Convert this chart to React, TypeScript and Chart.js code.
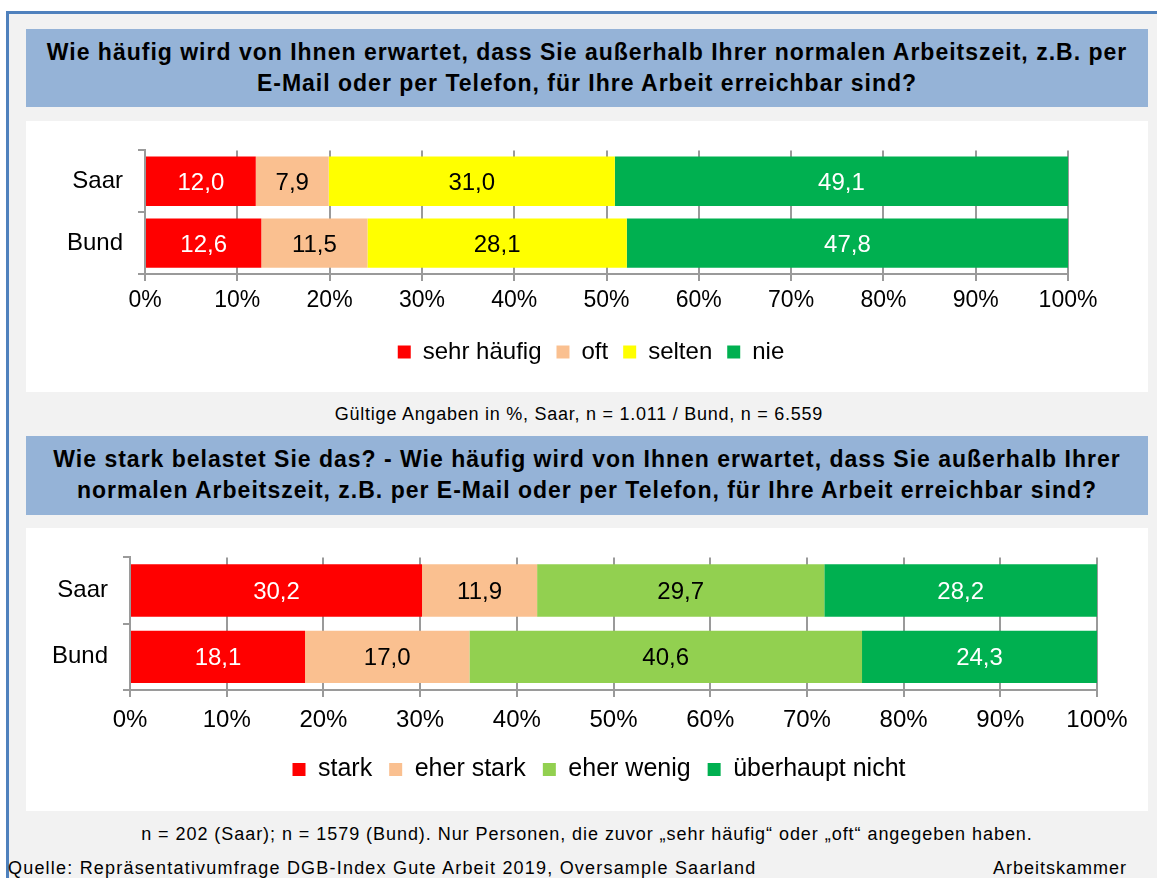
import React, { useEffect, useRef } from 'react';
import { Chart, registerables } from 'chart.js';

Chart.register(...registerables);

const FONT = "'Liberation Sans', Arial, Helvetica, sans-serif";
Chart.defaults.font.family = FONT;
Chart.defaults.color = '#000';

// ---------- data ----------
const categories = ['Saar', 'Bund'];
const percentTicks = [0, 10, 20, 30, 40, 50, 60, 70, 80, 90, 100];

const freqLabels = ['sehr häufig', 'oft', 'selten', 'nie'];
const freqSaar = [12.0, 7.9, 31.0, 49.1];
const freqBund = [12.6, 11.5, 28.1, 47.8];
const freqColors = ['#FF0000', '#FAC090', '#FFFF00', '#00B050'];
const freqTextColors = ['#FFFFFF', '#000000', '#000000', '#FFFFFF'];

const strainLabels = ['stark', 'eher stark', 'eher wenig', 'überhaupt nicht'];
const strainSaar = [30.2, 11.9, 29.7, 28.2];
const strainBund = [18.1, 17.0, 40.6, 24.3];
const strainColors = ['#FF0000', '#FAC090', '#92D050', '#00B050'];
const strainTextColors = ['#FFFFFF', '#000000', '#000000', '#FFFFFF'];

const GRID = '#9A9A9A';

type BarCfg = {
  labels: string[];
  saar: number[];
  bund: number[];
  colors: string[];
  textColors: string[];
  width: number;
  height: number;
  areaLeft: number;
  areaRight: number;
  areaTop: number;
  xHeight: number;
  tickPad: number;
  tickFont: number;
  catFont: number;
  catPad: number;
  dataFont: number;
  legendFont: number;
  legendPad: number;
  legendCenter: number;
  padBottom: number;
  barPct: number;
};

const fmt = (v: number) => v.toFixed(1).replace('.', ',');

function StackedBar(props: { cfg: BarCfg }) {
  const ref = useRef<HTMLCanvasElement | null>(null);
  const c = props.cfg;
  useEffect(() => {
    if (!ref.current) return;
    const dataLabels = {
      id: 'dataLabels',
      afterDatasetsDraw(chart: any) {
        const ctx = chart.ctx;
        chart.data.datasets.forEach((ds: any, i: number) => {
          const meta = chart.getDatasetMeta(i);
          meta.data.forEach((bar: any, j: number) => {
            const p = bar.getProps(['x', 'y', 'base'], true);
            ctx.save();
            ctx.font = `${c.dataFont}px ${FONT}`;
            ctx.fillStyle = c.textColors[i];
            ctx.textAlign = 'center';
            ctx.textBaseline = 'middle';
            ctx.fillText(fmt(ds.data[j]), (p.x + p.base) / 2, p.y + 2);
            ctx.restore();
          });
        });
      },
    };
    const legendShift = {
      id: 'legendShift',
      afterLayout(chart: any) {
        const lg = chart.legend;
        if (!lg) return;
        const dx = c.legendCenter - (lg.left + lg.right) / 2;
        lg.left += dx;
        lg.right += dx;
      },
    };
    const chart = new Chart(ref.current, {
      type: 'bar',
      data: {
        labels: categories,
        datasets: c.labels.map((name, i) => ({
          label: name,
          data: [c.saar[i], c.bund[i]],
          backgroundColor: c.colors[i],
          borderWidth: 0,
          barPercentage: c.barPct,
          categoryPercentage: 1,
        })),
      },
      options: {
        indexAxis: 'y',
        animation: false,
        responsive: false,
        devicePixelRatio: 1,
        layout: {
          padding: { top: c.areaTop, left: 0, right: c.width - c.areaRight, bottom: c.padBottom },
        },
        scales: {
          x: {
            stacked: true,
            min: 0,
            max: 100,
            afterFit: (s: any) => { s.height = c.xHeight; },
            afterBuildTicks: (s: any) => { s.ticks = percentTicks.map((v) => ({ value: v })); },
            ticks: {
              callback: (v: any) => v + '%',
              font: { size: c.tickFont },
              color: '#000',
              padding: c.tickPad,
              maxRotation: 0,
              autoSkip: false,
            },
            grid: { color: GRID, lineWidth: 2, tickLength: 7, drawTicks: true },
            border: { display: true, color: GRID, width: 2 },
          },
          y: {
            stacked: true,
            afterFit: (s: any) => { s.width = c.areaLeft; },
            ticks: { font: { size: c.catFont }, color: '#000', padding: c.catPad },
            grid: { display: true, drawOnChartArea: false, drawTicks: true, tickLength: 7, color: GRID, lineWidth: 2, offset: true },
            border: { display: true, color: GRID, width: 2 },
          },
        },
        plugins: {
          legend: {
            display: true,
            position: 'bottom',
            labels: {
              boxWidth: 13,
              boxHeight: 13,
              padding: c.legendPad,
              font: { size: c.legendFont },
              color: '#000',
            },
          },
          tooltip: { enabled: false },
          title: { display: false },
        },
      },
      plugins: [dataLabels, legendShift],
    } as any);
    return () => chart.destroy();
  }, []);
  return (
    <canvas
      ref={ref}
      width={c.width}
      height={c.height}
      style={{ display: 'block', width: c.width, height: c.height }}
    />
  );
}

const chart1: BarCfg = {
  labels: freqLabels,
  saar: freqSaar,
  bund: freqBund,
  colors: freqColors,
  textColors: freqTextColors,
  width: 1122,
  height: 271,
  areaLeft: 119,
  areaRight: 1042,
  areaTop: 28,
  xHeight: 51,
  tickPad: 6,
  tickFont: 23,
  catFont: 24,
  catPad: 15,
  dataFont: 24,
  legendFont: 24,
  legendPad: 15,
  legendCenter: 565,
  padBottom: 18,
  barPct: 0.8,
};

const chart2: BarCfg = {
  labels: strainLabels,
  saar: strainSaar,
  bund: strainBund,
  colors: strainColors,
  textColors: strainTextColors,
  width: 1122,
  height: 283,
  areaLeft: 104,
  areaRight: 1071,
  areaTop: 28,
  xHeight: 50,
  tickPad: 9,
  tickFont: 24,
  catFont: 24,
  catPad: 15,
  dataFont: 24,
  legendFont: 25,
  legendPad: 17,
  legendCenter: 573,
  padBottom: 19,
  barPct: 0.79,
};

const titleStyle: React.CSSProperties = {
  position: 'absolute',
  left: 26,
  width: 1122,
  background: '#95B3D7',
  fontWeight: 'bold',
  fontSize: 23,
  letterSpacing: '1px',
  lineHeight: '31px',
  textAlign: 'center',
  whiteSpace: 'nowrap',
  color: '#000',
  boxSizing: 'border-box',
  paddingTop: 8,
};

const noteStyle: React.CSSProperties = {
  position: 'absolute',
  fontSize: 18,
  lineHeight: '22px',
  whiteSpace: 'nowrap',
};

export default function App() {
  return (
    <div
      style={{
        position: 'absolute',
        left: 0,
        top: 0,
        width: 1157,
        height: 878,
        overflow: 'hidden',
        background: '#FFFFFF',
        fontFamily: FONT,
        color: '#000',
      }}
    >
      <div
        style={{
          position: 'absolute',
          left: 6,
          top: 11,
          width: 1170,
          height: 900,
          background: '#F2F2F2',
          borderLeft: '3px solid #4F81BD',
          borderTop: '3px solid #4F81BD',
        }}
      />
      <div style={{ ...titleStyle, top: 29, height: 78 }}>
        Wie häufig wird von Ihnen erwartet, dass Sie außerhalb Ihrer normalen Arbeitszeit, z.B. per
        <br />
        E-Mail oder per Telefon, für Ihre Arbeit erreichbar sind?
      </div>
      <div style={{ position: 'absolute', left: 26, top: 121, width: 1122, height: 271, background: '#FFFFFF' }}>
        <StackedBar cfg={chart1} />
      </div>
      <div style={{ ...noteStyle, left: 18, top: 403, width: 1122, textAlign: 'center', letterSpacing: '0.75px' }}>
        Gültige Angaben in %, Saar, n = 1.011 / Bund, n = 6.559
      </div>
      <div style={{ ...titleStyle, top: 436, height: 79 }}>
        Wie stark belastet Sie das? - Wie häufig wird von Ihnen erwartet, dass Sie außerhalb Ihrer
        <br />
        normalen Arbeitszeit, z.B. per E-Mail oder per Telefon, für Ihre Arbeit erreichbar sind?
      </div>
      <div style={{ position: 'absolute', left: 26, top: 528, width: 1122, height: 283, background: '#FFFFFF' }}>
        <StackedBar cfg={chart2} />
      </div>
      <div style={{ ...noteStyle, left: 26, top: 823, width: 1122, textAlign: 'center', letterSpacing: '0.95px' }}>
        n = 202 (Saar); n = 1579 (Bund). Nur Personen, die zuvor „sehr häufig“ oder „oft“ angegeben haben.
      </div>
      <div style={{ ...noteStyle, left: 8, top: 857, letterSpacing: '1.2px' }}>
        Quelle: Repräsentativumfrage DGB-Index Gute Arbeit 2019, Oversample Saarland
      </div>
      <div style={{ ...noteStyle, right: 30, top: 857, letterSpacing: '1px' }}>
        Arbeitskammer
      </div>
    </div>
  );
}
